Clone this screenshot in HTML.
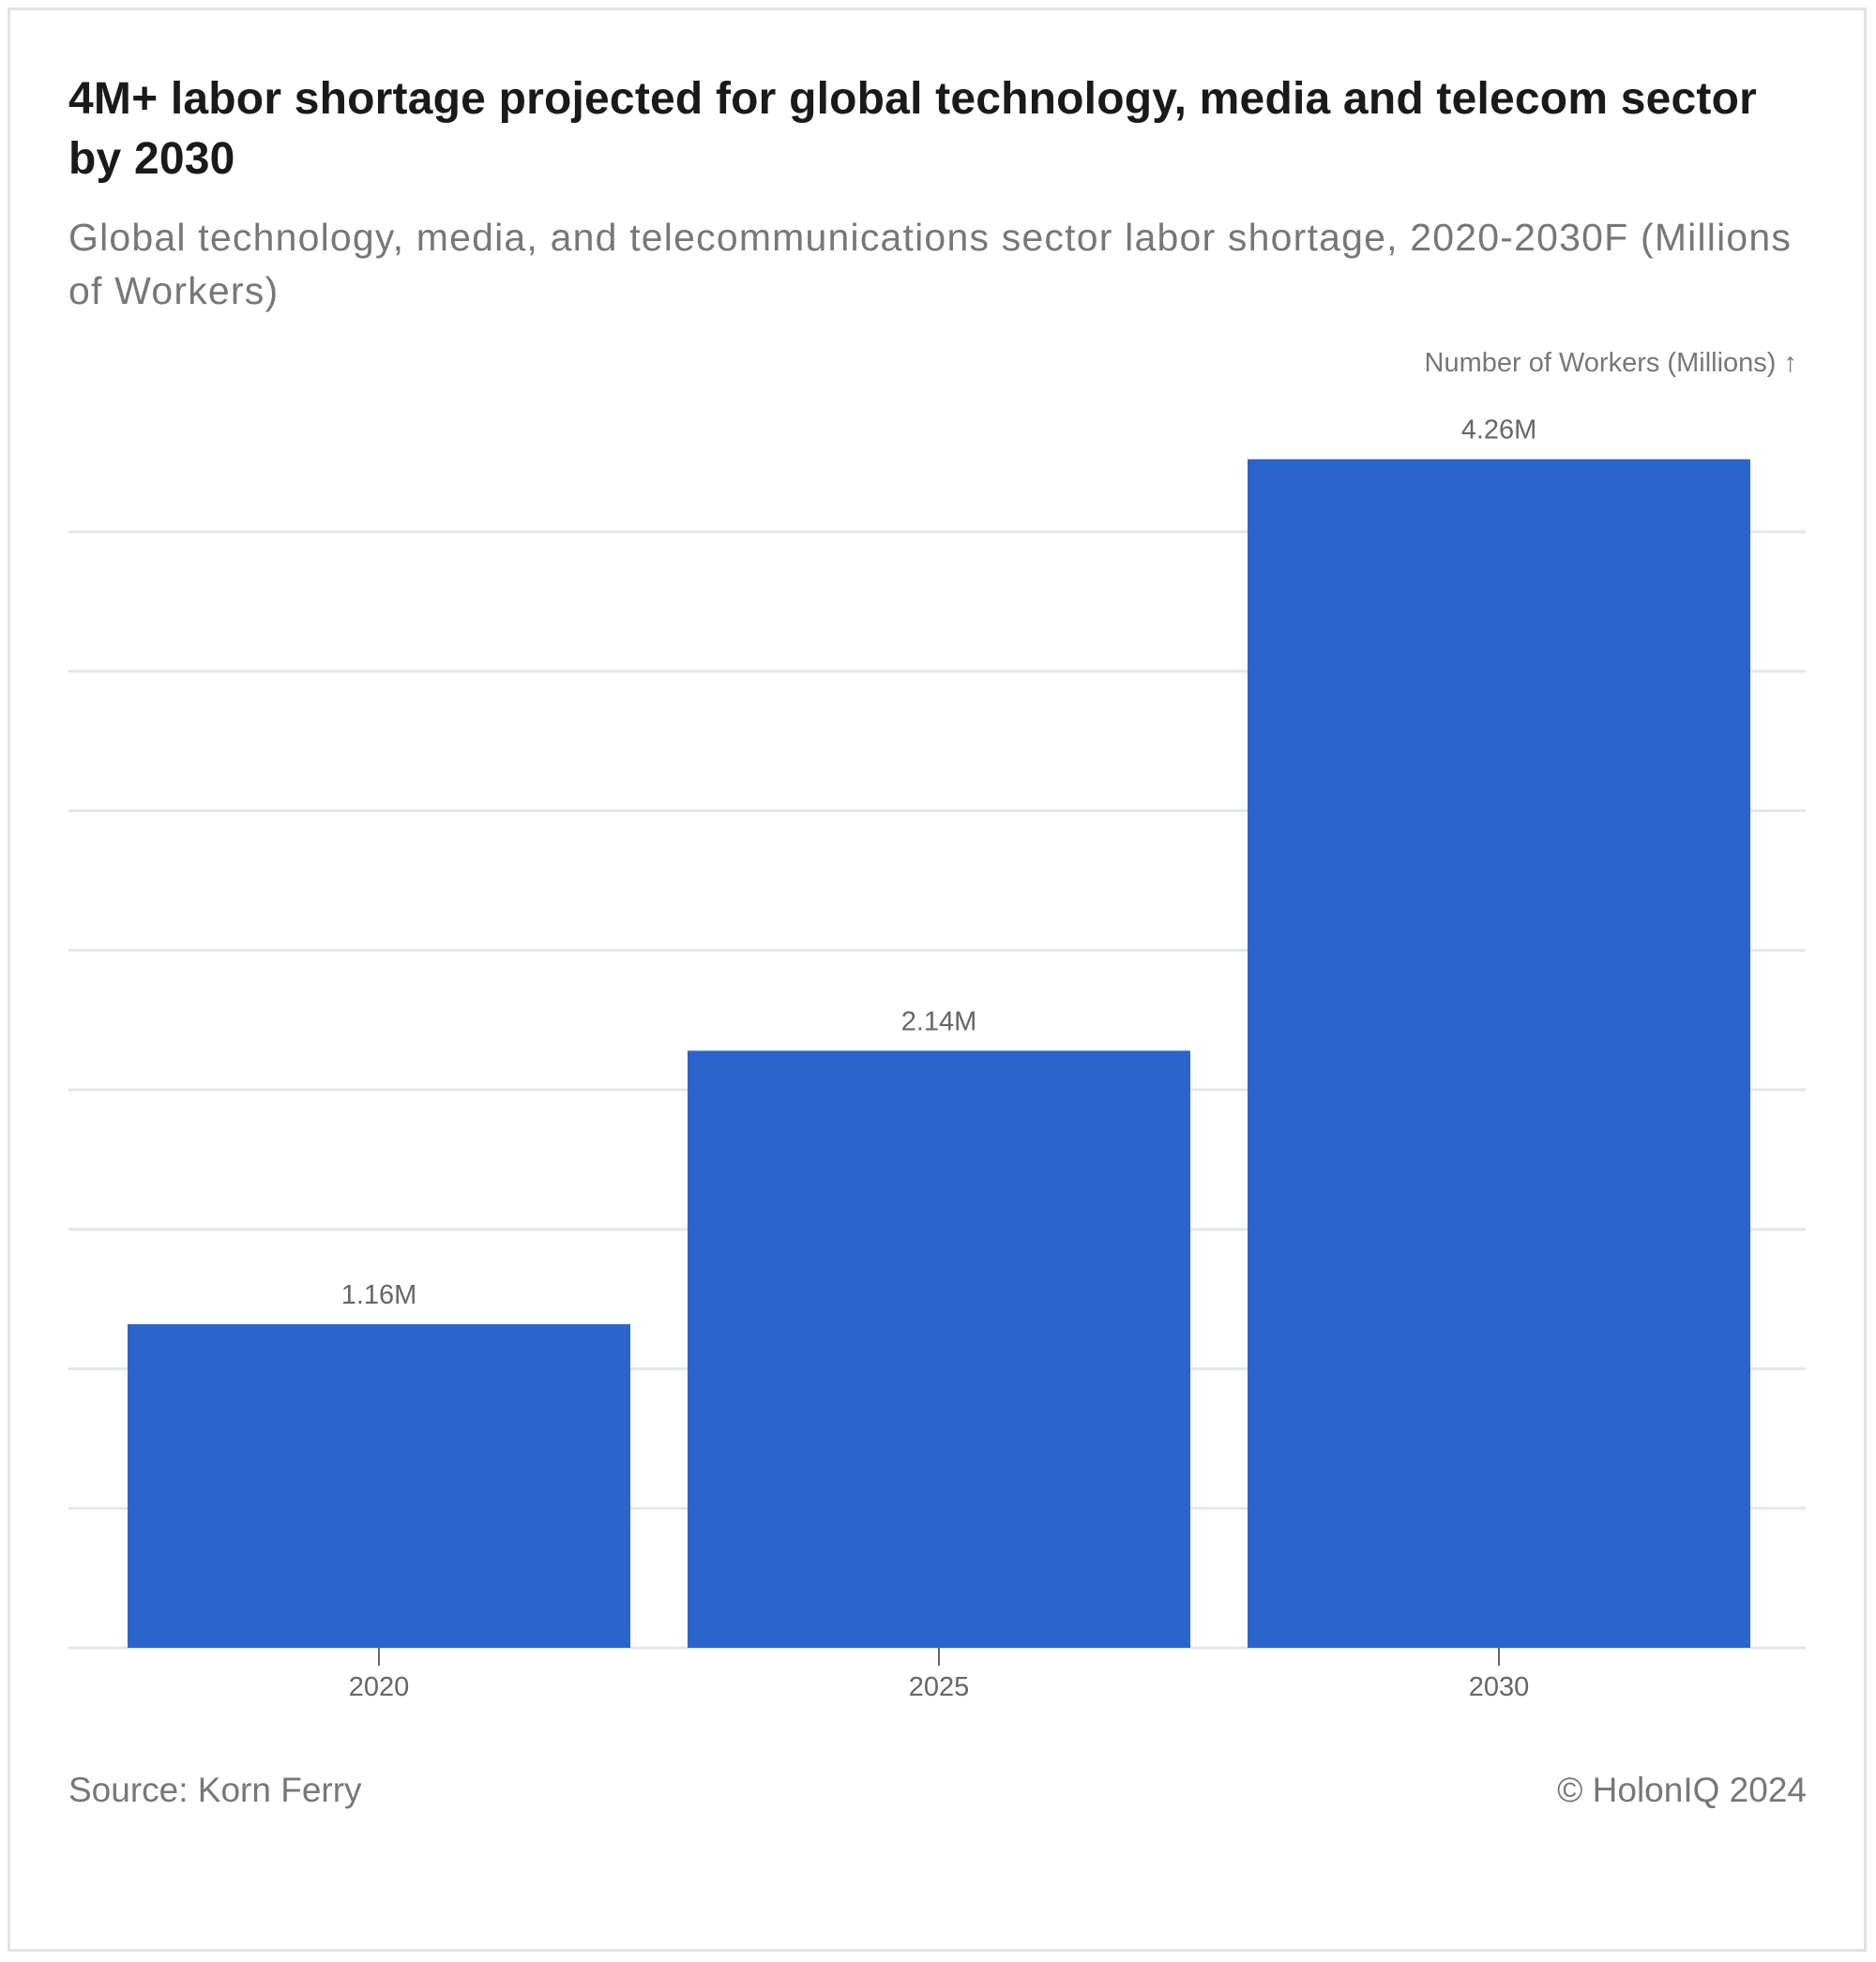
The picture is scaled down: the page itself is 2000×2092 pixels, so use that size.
<!DOCTYPE html>
<html><head><meta charset="utf-8"><style>
body{margin:0;background:#fff;width:2000px;height:2092px;overflow:hidden;font-family:"Liberation Sans",sans-serif}
.frame{position:absolute;left:8px;top:8px;width:1982px;height:2073px;border:3px solid #e2e2e2;box-sizing:border-box}
.t{position:absolute;left:73px;top:74px;width:1900px;font-size:48px;line-height:64px;color:#1a1a1a;font-weight:bold;white-space:nowrap;letter-spacing:0.2px}
.s{position:absolute;left:73px;top:225px;width:1900px;font-size:41px;line-height:57px;color:#777;white-space:nowrap;letter-spacing:1.2px}
.f{position:absolute;top:1888px;font-size:37px;color:#777}
</style></head><body>
<div class="frame"></div>
<div class="t">4M+ labor shortage projected for global technology, media and telecom sector<br>by 2030</div>
<div class="s">Global technology, media, and telecommunications sector labor shortage, 2020-2030F (Millions<br>of Workers)</div>
<svg id="c" width="2000" height="2092" style="position:absolute;left:0;top:0">
<text x="1916" y="396" text-anchor="end" font-size="29" fill="#777" font-family="Liberation Sans, sans-serif">Number of Workers (Millions) ↑</text>
</svg>
<div class="f" style="left:73px">Source: Korn Ferry</div>
<div class="f" style="right:74px">© HolonIQ 2024</div>
<script>
const categories=["2020","2025","2030"];
const values=[1.16,2.14,4.26];
const valueLabels=["1.16M","2.14M","4.26M"];
const gridTicks=[0,0.5,1,1.5,2,2.5,3,3.5,4];
const svg=document.getElementById('c');
const NS='http://www.w3.org/2000/svg';
const y=v=>1757-v*297.5;
const x=i=>404+i*597;
function mk(t,a){const e=document.createElementNS(NS,t);for(const k in a)e.setAttribute(k,a[k]);svg.appendChild(e);return e;}
gridTicks.forEach(v=>{
 const l=mk('line',{x1:73,x2:1925,y1:y(v),y2:y(v),stroke:'#e6e6e6','stroke-width':3});
 
 
});
categories.forEach((c,i)=>{
 const r=mk('rect',{x:x(i)-268,width:536,y:y(values[i]),height:y(0)-y(values[i]),fill:'#2a65cc'});
 
 
 const lb=mk('text',{x:x(i),y:y(values[i])-22,'text-anchor':'middle','font-size':29,fill:'#666','font-family':'Liberation Sans, sans-serif'});
 lb.textContent=valueLabels[i];
 
 
 const tk=mk('line',{x1:x(i),x2:x(i),y1:1757,y2:1776,stroke:'#666','stroke-width':2});
 
 
 const tl=mk('text',{x:x(i),y:1808,'text-anchor':'middle','font-size':29,fill:'#666','font-family':'Liberation Sans, sans-serif'});
 tl.textContent=c;
 
 
});
</script>
</body></html>
